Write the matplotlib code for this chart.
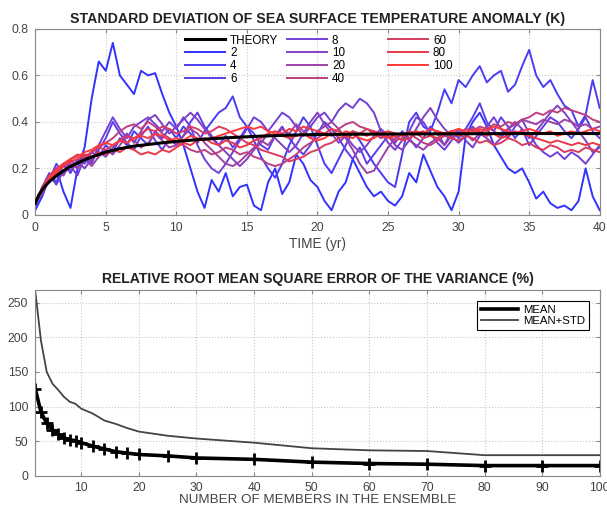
import numpy as np
import matplotlib
matplotlib.use("Agg")
import matplotlib.pyplot as plt

plt.rcParams['font.family'] = ['Liberation Sans', 'DejaVu Sans']

# ---- top panel: std of SST anomaly, one curve per ensemble size ----
time = np.linspace(0, 40, 81)  # sampled every 0.5 yr

theory_t = [0, 0.25, 0.5, 0.75, 1, 1.5, 2, 2.5, 3, 3.5, 4, 5, 6, 7, 8, 9, 10,
            12, 14, 16, 18, 20, 25, 30, 35, 40]
theory_v = [0.050, 0.085, 0.108, 0.127, 0.143, 0.168, 0.190, 0.208, 0.223, 0.237,
            0.249, 0.270, 0.285, 0.296, 0.303, 0.310, 0.316, 0.326, 0.333, 0.339,
            0.343, 0.346, 0.348, 0.349, 0.350, 0.350]

m2 = [0.02, 0.08, 0.16, 0.20, 0.10, 0.03, 0.20, 0.29, 0.50, 0.66,
      0.62, 0.74, 0.60, 0.56, 0.52, 0.62, 0.60, 0.61, 0.52, 0.44,
      0.38, 0.30, 0.20, 0.10, 0.03, 0.15, 0.10, 0.18, 0.08, 0.12,
      0.13, 0.04, 0.02, 0.14, 0.20, 0.09, 0.14, 0.26, 0.22, 0.15,
      0.12, 0.06, 0.02, 0.10, 0.14, 0.24, 0.18, 0.12, 0.08, 0.10,
      0.06, 0.04, 0.08, 0.18, 0.14, 0.26, 0.19, 0.12, 0.08, 0.02,
      0.10, 0.34, 0.40, 0.44, 0.38, 0.30, 0.25, 0.20, 0.18, 0.20,
      0.14, 0.07, 0.10, 0.05, 0.03, 0.04, 0.02, 0.06, 0.20, 0.08,
      0.02]
m4 = [0.03, 0.12, 0.18, 0.14, 0.22, 0.18, 0.24, 0.22, 0.27, 0.25,
      0.30, 0.27, 0.33, 0.30, 0.36, 0.33, 0.30, 0.36, 0.33, 0.37,
      0.33, 0.38, 0.35, 0.31, 0.36, 0.40, 0.44, 0.46, 0.51, 0.42,
      0.38, 0.32, 0.25, 0.20, 0.16, 0.22, 0.30, 0.36, 0.42, 0.38,
      0.30, 0.22, 0.18, 0.24, 0.30, 0.36, 0.32, 0.27, 0.22, 0.18,
      0.14, 0.12, 0.26, 0.40, 0.44, 0.38, 0.36, 0.44, 0.54, 0.48,
      0.58, 0.55, 0.60, 0.64, 0.57, 0.60, 0.62, 0.53, 0.56, 0.64,
      0.71, 0.60, 0.55, 0.58, 0.52, 0.47, 0.45, 0.38, 0.43, 0.58,
      0.46]
m6 = [0.04, 0.10, 0.15, 0.22, 0.17, 0.24, 0.20, 0.26, 0.23, 0.28,
      0.33, 0.40, 0.35, 0.31, 0.28, 0.34, 0.38, 0.32, 0.28, 0.33,
      0.30, 0.34, 0.40, 0.44, 0.38, 0.34, 0.30, 0.34, 0.29, 0.33,
      0.38, 0.35, 0.30, 0.28, 0.34, 0.38, 0.33, 0.29, 0.26, 0.30,
      0.35, 0.40, 0.37, 0.33, 0.28, 0.24, 0.29, 0.22, 0.26, 0.30,
      0.34, 0.31, 0.36, 0.33, 0.29, 0.33, 0.38, 0.35, 0.30, 0.36,
      0.33, 0.37, 0.42, 0.48, 0.40, 0.36, 0.42, 0.38, 0.33, 0.37,
      0.30, 0.34, 0.38, 0.42, 0.40, 0.36, 0.33, 0.37, 0.42, 0.36,
      0.33]
m8 = [0.05, 0.09, 0.17, 0.13, 0.19, 0.21, 0.17, 0.25, 0.22, 0.30,
      0.36, 0.42, 0.37, 0.33, 0.38, 0.40, 0.42, 0.39, 0.36, 0.40,
      0.37, 0.42, 0.38, 0.30, 0.24, 0.20, 0.18, 0.22, 0.27, 0.32,
      0.37, 0.42, 0.40, 0.36, 0.40, 0.44, 0.42, 0.38, 0.34, 0.38,
      0.42, 0.44, 0.40, 0.45, 0.48, 0.46, 0.50, 0.48, 0.44, 0.36,
      0.31, 0.28, 0.32, 0.36, 0.42, 0.40, 0.35, 0.31, 0.28, 0.32,
      0.36, 0.32, 0.29, 0.34, 0.38, 0.42, 0.37, 0.33, 0.38, 0.41,
      0.35, 0.30, 0.27, 0.25, 0.27, 0.24, 0.27, 0.25, 0.22, 0.26,
      0.30]
m10 = [0.04, 0.12, 0.14, 0.18, 0.21, 0.19, 0.23, 0.20, 0.24, 0.27,
       0.25, 0.29, 0.32, 0.35, 0.31, 0.36, 0.41, 0.43, 0.39, 0.35,
       0.38, 0.41, 0.44, 0.41, 0.37, 0.33, 0.30, 0.27, 0.24, 0.21,
       0.24, 0.28, 0.31, 0.35, 0.33, 0.30, 0.27, 0.30, 0.35, 0.40,
       0.44, 0.39, 0.35, 0.31, 0.34, 0.30, 0.27, 0.30, 0.34, 0.37,
       0.34, 0.30, 0.28, 0.32, 0.37, 0.42, 0.46, 0.41, 0.37, 0.34,
       0.31, 0.34, 0.38, 0.35, 0.33, 0.30, 0.33, 0.37, 0.40, 0.37,
       0.33, 0.36, 0.40, 0.44, 0.47, 0.44, 0.40, 0.36, 0.32, 0.27,
       0.29]
m20 = [0.05, 0.10, 0.16, 0.19, 0.17, 0.22, 0.20, 0.24, 0.21, 0.25,
       0.28, 0.26, 0.30, 0.34, 0.32, 0.29, 0.31, 0.35, 0.32, 0.29,
       0.30, 0.34, 0.37, 0.35, 0.31, 0.28, 0.25, 0.22, 0.21, 0.23,
       0.26, 0.29, 0.32, 0.30, 0.34, 0.37, 0.35, 0.39, 0.36, 0.33,
       0.36, 0.38, 0.40, 0.37, 0.33, 0.28, 0.22, 0.18, 0.19, 0.24,
       0.29, 0.33, 0.35, 0.32, 0.30, 0.28, 0.31, 0.33, 0.30, 0.34,
       0.37, 0.35, 0.32, 0.35, 0.38, 0.36, 0.34, 0.37, 0.39, 0.41,
       0.40, 0.39, 0.41, 0.40, 0.39, 0.41, 0.40, 0.38, 0.39, 0.37,
       0.38]
m40 = [0.05, 0.11, 0.15, 0.19, 0.21, 0.23, 0.22, 0.25, 0.27, 0.29,
       0.31, 0.33, 0.36, 0.38, 0.39, 0.37, 0.40, 0.38, 0.35, 0.33,
       0.31, 0.30, 0.28, 0.27, 0.28, 0.26, 0.27, 0.29, 0.28, 0.26,
       0.27, 0.25, 0.24, 0.22, 0.21, 0.22, 0.24, 0.26, 0.29, 0.31,
       0.33, 0.35, 0.34, 0.37, 0.39, 0.40, 0.38, 0.37, 0.35, 0.33,
       0.34, 0.32, 0.33, 0.35, 0.33, 0.31, 0.30, 0.32, 0.34, 0.33,
       0.35, 0.37, 0.36, 0.38, 0.37, 0.39, 0.38, 0.40, 0.39, 0.41,
       0.42, 0.44, 0.43, 0.45, 0.44, 0.46, 0.45, 0.44, 0.43, 0.41,
       0.40]
m60 = [0.05, 0.12, 0.17, 0.20, 0.22, 0.24, 0.26, 0.25, 0.27, 0.29,
       0.28, 0.30, 0.32, 0.34, 0.33, 0.35, 0.37, 0.36, 0.38, 0.37,
       0.35, 0.36, 0.38, 0.37, 0.35, 0.36, 0.38, 0.37, 0.35, 0.33,
       0.31, 0.30, 0.28, 0.27, 0.26, 0.25, 0.23, 0.24, 0.25, 0.27,
       0.28, 0.30, 0.31, 0.33, 0.34, 0.36, 0.35, 0.37, 0.36, 0.34,
       0.33, 0.35, 0.34, 0.36, 0.35, 0.33, 0.34, 0.36, 0.35, 0.33,
       0.32, 0.34, 0.33, 0.31, 0.32, 0.30, 0.31, 0.33, 0.32, 0.30,
       0.31, 0.29, 0.28, 0.30, 0.29, 0.27, 0.28, 0.27, 0.29, 0.28,
       0.27]
m80 = [0.05, 0.10, 0.15, 0.18, 0.21, 0.23, 0.24, 0.26, 0.25, 0.27,
       0.26, 0.28, 0.27, 0.29, 0.28, 0.26, 0.27, 0.26, 0.28, 0.27,
       0.29, 0.31, 0.30, 0.32, 0.33, 0.31, 0.30, 0.32, 0.31, 0.29,
       0.30, 0.32, 0.33, 0.35, 0.36, 0.35, 0.37, 0.36, 0.38, 0.37,
       0.36, 0.35, 0.37, 0.36, 0.34, 0.33, 0.35, 0.34, 0.36, 0.35,
       0.33, 0.34, 0.32, 0.33, 0.35, 0.36, 0.34, 0.33, 0.35, 0.36,
       0.34, 0.35, 0.37, 0.36, 0.34, 0.35, 0.33, 0.34, 0.36, 0.35,
       0.34, 0.33, 0.32, 0.31, 0.32, 0.31, 0.30, 0.31, 0.30, 0.31,
       0.30]
m100 = [0.05, 0.11, 0.16, 0.19, 0.22, 0.24, 0.25, 0.27, 0.28, 0.30,
        0.31, 0.30, 0.32, 0.31, 0.33, 0.34, 0.33, 0.35, 0.34, 0.32,
        0.33, 0.32, 0.34, 0.33, 0.32, 0.33, 0.34, 0.35, 0.36, 0.37,
        0.38, 0.37, 0.38, 0.36, 0.35, 0.34, 0.33, 0.34, 0.35, 0.33,
        0.32, 0.33, 0.35, 0.34, 0.36, 0.35, 0.33, 0.32, 0.33, 0.35,
        0.36, 0.35, 0.34, 0.35, 0.36, 0.35, 0.37, 0.36, 0.35, 0.36,
        0.37, 0.36, 0.35, 0.37, 0.36, 0.38, 0.37, 0.36, 0.35, 0.36,
        0.37, 0.36, 0.35, 0.36, 0.34, 0.35, 0.36, 0.35, 0.36, 0.37,
        0.36]

members = ['2', '4', '6', '8', '10', '20', '40', '60', '80', '100']
series = [m2, m4, m6, m8, m10, m20, m40, m60, m80, m100]
colors = ['#3232ff', '#4a3cf4', '#5e3ee6', '#7240d6', '#8440c4', '#9c42a6',
          '#bc4080', '#d83c60', '#ec3848', '#ff3a3a']

# ---- bottom panel: relative rms error of the variance ----
n_members = [2, 3, 4, 5, 6, 7, 8, 9, 10, 12, 14, 16, 18, 20, 25, 30, 40,
             50, 60, 70, 80, 90, 100]
err_mean = [126, 92, 76, 67, 60, 55, 52, 51, 48, 43, 39, 35, 33, 31, 29,
            26, 24, 20, 18, 17, 15, 15, 15]
err_std = [267, 195, 150, 133, 124, 114, 107, 104, 97, 90, 80, 75, 69, 64,
           58, 54, 48, 40, 37, 36, 30, 30, 30]

fig = plt.figure(figsize=(6.07, 5.08), dpi=100)
ax1 = fig.add_axes([0.058, 0.577, 0.930, 0.366])
ax2 = fig.add_axes([0.058, 0.063, 0.930, 0.366])

grid_kw = dict(color='#c8c8c8', linestyle=':', linewidth=0.8)
tick_kw = dict(direction='in', top=True, right=True, labelsize=8.7,
               labelcolor='#444444', color='#888888', length=3, pad=5)

lines = []
l, = ax1.plot(theory_t, theory_v, color='black', lw=2.2, zorder=5)
lines.append(l)
for vals, c in zip(series, colors):
    l, = ax1.plot(time, vals, color=c, lw=1.4)
    lines.append(l)

# MATLAB-style legend: three equal-width columns of four entries
labels = ['THEORY'] + members
col_x = [0.2655, 0.446, 0.625]
for k, x0 in enumerate(col_x):
    lg = ax1.legend(lines[4 * k:4 * k + 4], labels[4 * k:4 * k + 4],
                    frameon=False, fontsize=8.4, loc='upper left',
                    bbox_to_anchor=(x0, 0.97), borderpad=0, borderaxespad=0,
                    handlelength=3.4, handletextpad=0.45, labelspacing=0.07)
    if k < 2:
        ax1.add_artist(lg)

ax1.set_xlim(0, 40)
ax1.set_ylim(0, 0.8)
ax1.set_xticks(range(0, 41, 5))
ax1.set_yticks([0, 0.2, 0.4, 0.6, 0.8])
ax1.set_yticklabels(['0', '0.2', '0.4', '0.6', '0.8'])
ax1.grid(True, **grid_kw)
ax1.tick_params(**tick_kw)
ax1.set_title('STANDARD DEVIATION OF SEA SURFACE TEMPERATURE ANOMALY (K)',
              fontsize=10.2, fontweight='bold', color='#222222', pad=4)
ax1.set_xlabel('TIME (yr)', fontsize=9.8, color='#444444', labelpad=2)

ax2.plot(n_members, err_mean, color='black', lw=2.6, label='MEAN')
ax2.plot(n_members, err_mean, color='black', ls='none', marker='+', ms=8,
         mew=2)
ax2.plot(n_members, err_std, color='#444444', lw=1.3, label='MEAN+STD')
leg = ax2.legend(loc='upper right', fontsize=8.2, fancybox=False,
                 edgecolor='black', framealpha=1, handlelength=3.3,
                 handletextpad=0.4, borderaxespad=0.95, labelspacing=0.1,
                 borderpad=0.35)
leg.get_frame().set_linewidth(0.8)

ax2.set_xlim(2, 100)
ax2.set_ylim(0, 268)
ax2.set_xticks(range(10, 101, 10))
ax2.set_yticks(range(0, 251, 50))
ax2.grid(True, **grid_kw)
ax2.tick_params(**tick_kw)
ax2.tick_params(axis='x', pad=4)
ax2.set_title('RELATIVE ROOT MEAN SQUARE ERROR OF THE VARIANCE (%)',
              fontsize=10.1, fontweight='bold', color='#222222', pad=5)
ax2.set_xlabel('NUMBER OF MEMBERS IN THE ENSEMBLE', fontsize=9.6,
               color='#444444', labelpad=0)

for ax in (ax1, ax2):
    for s in ax.spines.values():
        s.set_color('#888888')

fig.savefig('out.png', dpi=100)
